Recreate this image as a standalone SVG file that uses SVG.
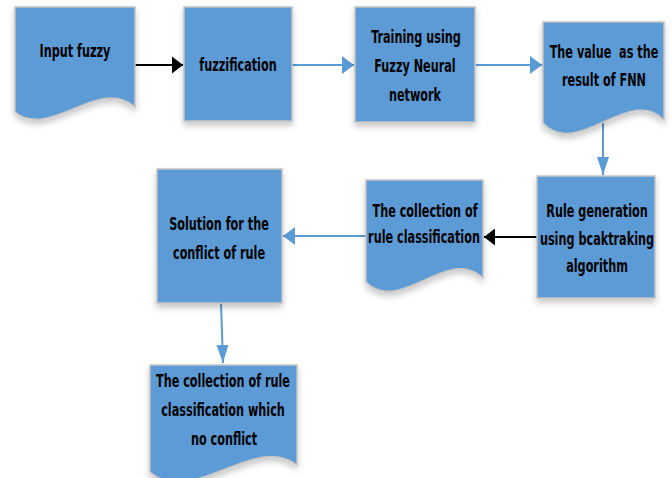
<svg xmlns="http://www.w3.org/2000/svg" width="672" height="478" viewBox="0 0 672 478">
<defs>
<style>
.shape{fill:#5B9BD5;stroke:#c4c4c4;stroke-width:1.5;filter:url(#sh)}
.t{font-family:"DejaVu Sans Condensed","DejaVu Sans","Liberation Sans",sans-serif;font-stretch:condensed;font-weight:bold;font-size:12.5px;fill:#000;text-anchor:middle}
.cb{stroke:#5B9BD5;stroke-width:2;fill:none}
.ck{stroke:#000;stroke-width:2;fill:none}
</style>
<filter id="sh" x="-20%" y="-20%" width="140%" height="150%">
<feDropShadow dx="0" dy="4" stdDeviation="3" flood-color="#000" flood-opacity="0.22"/>
</filter>
<marker id="bh" markerUnits="userSpaceOnUse" markerWidth="12" markerHeight="18" refX="12" refY="9" orient="auto">
<path d="M0,0 L12,9 L0,18 z" fill="#5B9BD5"/>
</marker>
<marker id="bv" markerUnits="userSpaceOnUse" markerWidth="18" markerHeight="12" refX="18" refY="6" orient="auto">
<path d="M0,0 L18,6 L0,12 z" fill="#5B9BD5"/>
</marker>
<marker id="kh" markerUnits="userSpaceOnUse" markerWidth="11" markerHeight="17" refX="11" refY="8.5" orient="auto">
<path d="M0,0 L11,8.5 L0,17 z" fill="#000"/>
</marker>
</defs>
<rect width="672" height="478" fill="#fff"/>

<g id="connectors">
<line class="ck" x1="135" y1="65" x2="183" y2="65" marker-end="url(#kh)"/>
<line class="cb" x1="292" y1="65" x2="354" y2="65" marker-end="url(#bh)"/>
<line class="cb" x1="475" y1="65" x2="542" y2="65" marker-end="url(#bh)"/>
<line class="cb" x1="603" y1="122" x2="603" y2="175" marker-end="url(#bv)"/>
<line class="ck" x1="537" y1="237" x2="484" y2="237" marker-end="url(#kh)"/>
<line class="cb" x1="366" y1="236" x2="283" y2="236" marker-end="url(#bh)"/>
<line class="cb" x1="221" y1="303" x2="223" y2="363" marker-end="url(#bv)"/>
</g>

<g id="input-fuzzy">
<path class="shape" d="M15,7 H135 V107 C100,75 50,140 15,112 Z"/>
<text class="t" transform="translate(75,57) scale(1,1.42)">Input fuzzy</text>
</g>

<g id="fuzzification">
<rect class="shape" x="184" y="7" width="108" height="114"/>
<text class="t" transform="translate(238,71) scale(1,1.42)">fuzzification</text>
</g>

<g id="training">
<rect class="shape" x="355" y="7" width="120" height="115"/>
<text class="t" transform="translate(416,43) scale(1,1.42)">Training using</text>
<text class="t" transform="translate(415,72) scale(1,1.42)">Fuzzy Neural</text>
<text class="t" transform="translate(415,101) scale(1,1.42)">network</text>
</g>

<g id="fnn-value">
<path class="shape" d="M543,22 H664 V120 C629,84 578,160 543,123 Z"/>
<text class="t" transform="translate(604,58) scale(1,1.42)" xml:space="preserve">The value  as the</text>
<text class="t" transform="translate(604,86) scale(1,1.42)">result of FNN</text>
</g>

<g id="rule-generation">
<rect class="shape" x="537" y="176" width="118" height="122"/>
<text class="t" transform="translate(597,217) scale(1,1.42)">Rule generation</text>
<text class="t" transform="translate(597,245) scale(1,1.42)">using bcaktraking</text>
<text class="t" transform="translate(597,272) scale(1,1.42)">algorithm</text>
</g>

<g id="rule-classification">
<path class="shape" d="M366,180 H483 V278 C449,244 400,316 366,282 Z"/>
<text class="t" transform="translate(425,217) scale(1,1.42)">The collection of</text>
<text class="t" transform="translate(424,243) scale(1,1.42)">rule classification</text>
</g>

<g id="conflict-solution">
<rect class="shape" x="157" y="169" width="125" height="134"/>
<text class="t" transform="translate(219,230) scale(1,1.42)">Solution for the</text>
<text class="t" transform="translate(219,259) scale(1,1.42)">conflict of rule</text>
</g>

<g id="no-conflict">
<path class="shape" d="M150,365 H297 V465 C254,432 193,508 150,472 Z"/>
<text class="t" transform="translate(223,387) scale(1,1.42)">The collection of rule</text>
<text class="t" transform="translate(223,416) scale(1,1.42)">classification which</text>
<text class="t" transform="translate(224,445) scale(1,1.42)">no conflict</text>
</g>
</svg>
